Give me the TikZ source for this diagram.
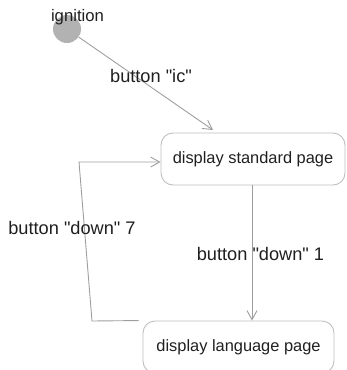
\documentclass[tikz,border=0pt]{standalone}
\usepackage{fontspec}
\setmainfont{Liberation Sans}[Ligatures=TeXOff]
\usetikzlibrary{arrows.meta}
\begin{document}
\begin{tikzpicture}[x=1pt,y=-1pt,
  statebox/.style={draw=black!25, line width=0.9pt, rounded corners=12pt,
    minimum height=52pt, inner sep=0pt, text=black!88,
    font=\fontsize{16.4}{18}\selectfont},
  lbl/.style={inner sep=0pt, text=black!88, font=\fontsize{18.2}{20}\selectfont},
  conn/.style={draw=black!38, line width=0.9pt,
    -{Straight Barb[length=9pt,width=10pt,line width=0.9pt]}}
]
\useasboundingbox (0,0) rectangle (346,370);
% initial state
\node[circle, fill=black!30, minimum size=28pt, inner sep=0pt] (init) at (67,29) {};
\node[lbl, anchor=base, font=\fontsize{16.7}{18}\selectfont] (ign) at (77.5,21) {ignition};
% states
\node[statebox, minimum width=184pt] (std) at (253,159) {display standard page};
\node[statebox, minimum width=191pt] (lang) at (238.5,347) {display language page};
% coordinates
\coordinate (icend) at (213,130);
\coordinate (lp1) at (92,321);
\coordinate (lp2) at (79,162);
% connectors
\draw[conn] (init) -- (icend);
\draw[conn] (std.south -| 252,0) -- (lang.north -| 252,0);
\draw[conn] ([xshift=-4pt]lang.north west) -- (lp1) -- (lp2) -- (std.west |- lp2);
% labels
\node[lbl] (lic) at (151,76) {button "ic"};
\node[lbl] (ld1) at (260.5,254) {button "down" 1};
\node[lbl] (ld7) at (72,228) {button "down" 7};
\end{tikzpicture}
\end{document}
